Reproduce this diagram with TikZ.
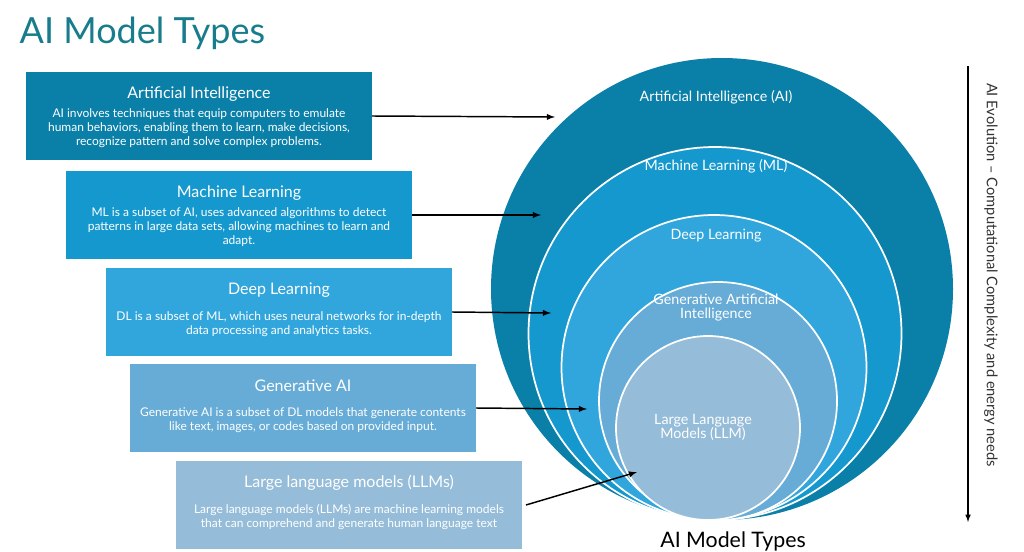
\documentclass[tikz,border=0pt]{standalone}
\usepackage{fontspec}
\setmainfont{Lato}
\begin{document}
\begin{tikzpicture}[x=0.75pt,y=-0.75pt,
 circ/.style={draw=white,line width=1.3pt},
 arr/.style={-latex,line width=1.1pt,black},
 ct/.style={text=white,font=\fontsize{10.7}{10.5}\selectfont,align=center}]
\definecolor{c1}{HTML}{0A7FA8}\definecolor{c2}{HTML}{1598CD}\definecolor{c3}{HTML}{31A6DD}
\definecolor{c4}{HTML}{66ACD6}\definecolor{c5}{HTML}{95BCD8}\definecolor{tt}{HTML}{177C8C}
\useasboundingbox (0,0) rectangle (1024,552);
\fill[white] (0,0) rectangle (1024,552);
\node[anchor=west,text=tt,font=\fontsize{27}{27}\selectfont] (title) at (15,33) {AI Model Types};
% circles
\fill[c1] (722,289) circle (231);
\draw[circ,fill=c2] (715,333.5) circle (186.5);
\draw[circ,fill=c3] (714,367.5) circle (152.5);
\draw[circ,fill=c4] (718,401) circle (119);
\draw[circ,fill=c5] (708,428) circle (92);
\node[ct] (t1) at (716,97) {Artificial Intelligence (AI)};
\node[ct] (t2) at (716,166) {Machine Learning (ML)};
\node[ct] (t3) at (716,236) {Deep Learning};
\node[ct] (t4) at (716,308) {Generative Artificial\\Intelligence};
\node[ct] (t5) at (703,427) {Large Language\\Models (LLM)};
\coordinate (e1) at (555,117);\coordinate (e2) at (541,215);\coordinate (e3) at (551,313);
\coordinate (e4) at (587,409);\coordinate (e5) at (637,472);
% boxes
\newcommand\mybox[6]{%
 \fill[#2] (#3,#4) rectangle ++(346,88);
 \node[text=white,font=\fontsize{12}{12}\selectfont] (#1h) at (#3+173,#4+22) {#5};
 \node[text=white,font=\fontsize{9}{10.6}\selectfont,align=center] (#1b) at (#3+173,#4+56) {#6};
 \coordinate (#1r) at (#3+346,#4+44);}
\mybox{b1}{c1}{26}{72}{Artificial Intelligence}{AI involves techniques that equip computers to emulate\\human behaviors, enabling them to learn, make decisions,\\recognize pattern and solve complex problems.}
\mybox{b2}{c2}{66}{171}{Machine Learning}{ML is a subset of AI, uses advanced algorithms to detect\\patterns in large data sets, allowing machines to learn and\\adapt.}
\mybox{b3}{c3}{106}{268}{Deep Learning}{DL is a subset of ML, which uses neural networks for in-depth\\data processing and analytics tasks.}
\mybox{b4}{c4}{130}{364}{Generative AI}{Generative AI is a subset of DL models that generate contents\\like text, images, or codes based on provided input.}
\mybox{b5}{c5}{176}{461}{Large language models (LLMs)}{Large language models (LLMs) are machine learning models\\that can comprehend and generate human language text}
\draw[arr] (b1r) -- (e1);
\draw[arr] (b2r) -- (e2);
\draw[arr] (b3r) -- (e3);
\draw[arr] (b4r) -- (e4);
\coordinate (s5) at (526,505);
\draw[arr] (s5) -- (e5);
\node[font=\fontsize{16}{16}\selectfont] (bt) at (733,541) {AI Model Types};
\coordinate (v1) at (968,66);\coordinate (v2) at (968,522);
\draw[arr,line width=0.9pt] (v1) -- (v2);
\node[rotate=-90,font=\fontsize{11}{11}\selectfont,text=black!80] (vl) at (991,275) {AI Evolution – Computational Complexity and energy needs};
\end{tikzpicture}
\end{document}
